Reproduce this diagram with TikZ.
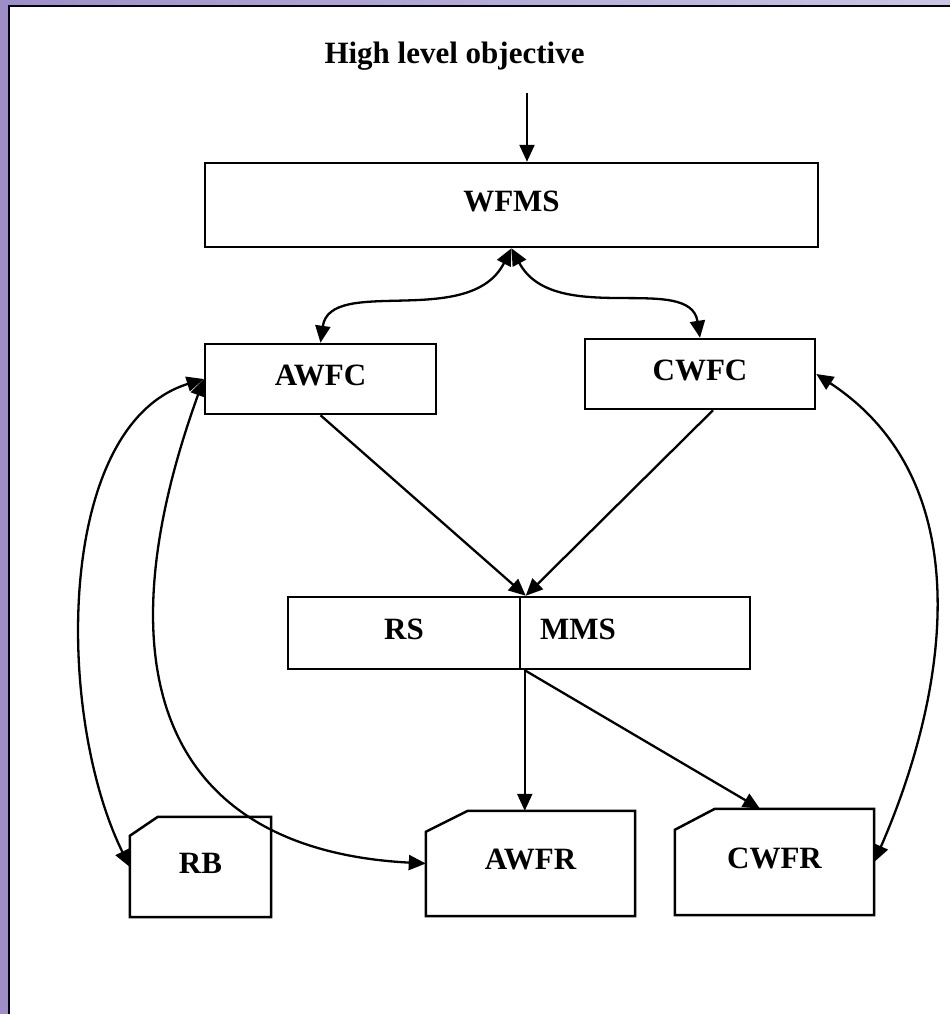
\documentclass[tikz,border=0pt]{standalone}
\usepackage{fontspec}
\setmainfont{Liberation Serif}
\usetikzlibrary{arrows.meta}
\definecolor{frame}{RGB}{157,143,198}
\definecolor{framelight}{RGB}{203,198,227}

\begin{document}
\begin{tikzpicture}[x=1pt,y=-1pt,
  >={Triangle[length=17pt,width=15pt]},
  lbl/.style={font=\fontsize{31}{37}\selectfont\bfseries,
              text height=20pt, text depth=8pt, inner sep=0pt},
  box/.style={lbl, draw, line width=2.5pt},
  outline/.style={draw, line width=2.5pt, line join=miter},
  conn/.style={line width=2.3pt}]

\useasboundingbox (0,0) rectangle (950,1014);

% slide frame
\fill[frame] (0,0) rectangle (950,1014);
\shade[left color=frame, right color=framelight] (0,0) rectangle (950,5);
\fill[white] (9,6) rectangle (950,1014);
\draw[line width=2.5pt] (9,1014) -- (9,6) -- (950,6);

% title and boxes
\node[lbl] (title) at (454.5,58) {High level objective};
\node[box, minimum width=613pt, minimum height=84pt] (wfms) at (511.5,205) {WFMS};
\node[box, minimum width=231pt, minimum height=70pt] (awfc) at (320.5,379) {AWFC};
\node[box, minimum width=230pt, minimum height=70pt] (cwfc) at (700,374) {CWFC};
\node[box, minimum width=232pt, minimum height=72pt] (rs) at (404,633) {RS};
\node[box, minimum height=72pt, text width=190pt, inner xsep=20pt, align=left] (mms) at (635,633) {MMS};

% repositories (boxes with a cut corner)
\node[lbl, minimum width=141pt, minimum height=100pt] (rb) at (200.5,867) {RB};
\draw[outline] ([yshift=-19pt]rb.north west) -- ([xshift=28pt]rb.north west)
  -- (rb.north east) -- (rb.south east) -- (rb.south west) -- cycle;
\node[lbl, minimum width=209pt, minimum height=105pt] (awfr) at (530.5,863.5) {AWFR};
\draw[outline] ([yshift=-21pt]awfr.north west) -- ([xshift=42pt]awfr.north west)
  -- (awfr.north east) -- (awfr.south east) -- (awfr.south west) -- cycle;
\node[lbl, minimum width=199pt, minimum height=106pt] (cwfr) at (774.5,862) {CWFR};
\draw[outline] ([yshift=-21pt]cwfr.north west) -- ([xshift=40pt]cwfr.north west)
  -- (cwfr.north east) -- (cwfr.south east) -- (cwfr.south west) -- cycle;

% objective into WFMS
\coordinate (src) at (527,93);
\draw[conn,->] (src) -- (src |- wfms.north);

% WFMS <-> controllers
\draw[conn,<->] (wfms.south) .. controls (470,330) and (330,275) .. (awfc.north);
\draw[conn,<->] (wfms.south) .. controls (554,328) and (690,272) .. (cwfc.north);

% controllers into RS/MMS
\coordinate (join) at ([xshift=7pt]mms.north west);
\draw[conn,->] (awfc.south) -- (join);
\draw[conn,->] ([xshift=13pt]cwfc.south) -- (join);

% RS/MMS out to the repositories
\coordinate (fork) at ([xshift=6pt]mms.south west);
\draw[conn,->] (fork) -- (fork |- awfr.north);
\draw[conn,->] (fork) -- ([xshift=-14.5pt]cwfr.north);

% controllers <-> repositories
\draw[conn,<->] (awfc.west) .. controls (55,425) and (55,715) .. (rb.west);
\draw[conn,<->] (awfc.west) .. controls (95,680) and (170,850) .. (awfr.west);
\draw[conn,<->] (cwfc.east) .. controls (985,485) and (945,700) .. (cwfr.east);

\end{tikzpicture}
\end{document}
